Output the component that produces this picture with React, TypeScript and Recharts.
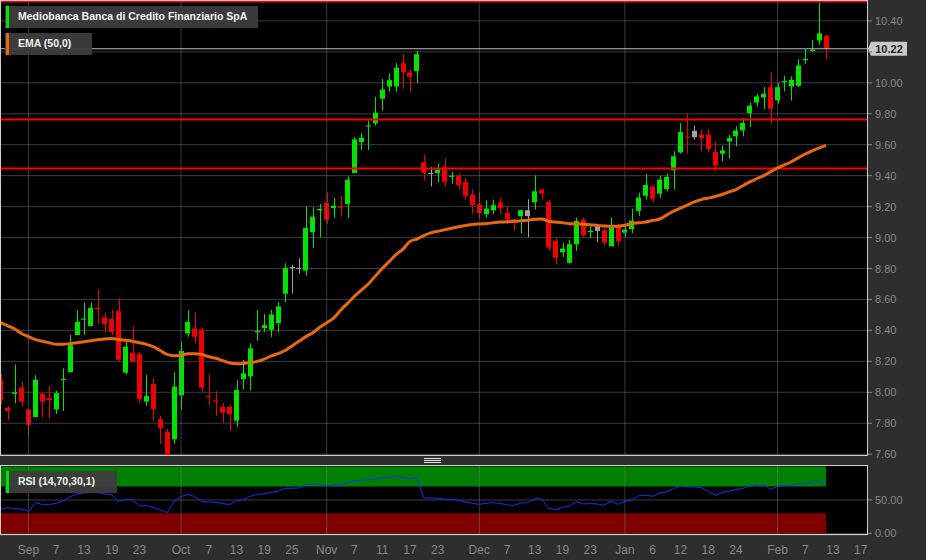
import {
  ComposedChart,
  Bar,
  Line,
  XAxis,
  YAxis,
  CartesianGrid,
  ReferenceLine,
  ReferenceArea,
} from "recharts";

// daily OHLC, Sep -> Feb
const opens = [
  8.08, 7.9, 7.99, 8.03, 7.89, 7.84, 7.99, 7.965, 7.89, 8.08,
  8.13, 8.37, 8.47, 8.428, 8.546, 8.484, 8.475, 8.525, 8.127, 8.256,
  8.247, 7.94, 8.054, 7.826, 7.746, 7.697, 7.98, 8.38, 8.413, 8.406,
  7.977, 7.948, 7.907, 7.907, 7.817, 8.086, 8.103, 8.393, 8.415, 8.404,
  8.447, 8.637, 8.81, 8.8, 8.787, 9.034, 9.176, 9.224, 9.19, 9.2,
  9.217, 9.417, 9.617, 9.718, 9.738, 9.897, 9.976, 9.976, 10.127, 10.067,
  10.077, 9.486, 9.413, 9.417, 9.456, 9.396, 9.398, 9.359, 9.277, 9.215,
  9.151, 9.176, 9.228, 9.159, 9.116, 9.138, 9.138, 9.228, 9.31, 9.23,
  8.978, 8.905, 8.837, 8.957, 9.116, 9.037, 9.075, 9.047, 8.944, 9.073,
  9.032, 9.054, 9.172, 9.27, 9.329, 9.284, 9.314, 9.434, 9.55, 9.652,
  9.69, 9.665, 9.665, 9.553, 9.542, 9.621, 9.654, 9.692, 9.804, 9.873,
  9.905, 9.972, 9.886, 10.004, 9.976, 9.981, 10.146, 10.206, 10.273, 10.303,
];
const highs = [
  8.12, 7.91, 8.18, 8.07, 7.89, 8.11, 8.0, 8.04, 8.01, 8.155,
  8.37, 8.53, 8.58, 8.58, 8.66, 8.516, 8.535, 8.606, 8.327, 8.428,
  8.26, 8.112, 8.09, 7.847, 7.763, 8.129, 8.327, 8.53, 8.516, 8.42,
  8.116, 8.009, 7.93, 7.918, 8.08, 8.209, 8.316, 8.53, 8.507, 8.533,
  8.583, 8.834, 8.824, 8.867, 9.202, 9.196, 9.217, 9.292, 9.256, 9.267,
  9.396, 9.647, 9.675, 9.755, 9.91, 10.024, 10.06, 10.127, 10.185, 10.088,
  10.206, 9.535, 9.457, 9.477, 9.51, 9.424, 9.413, 9.387, 9.31, 9.295,
  9.241, 9.245, 9.258, 9.198, 9.12, 9.181, 9.247, 9.402, 9.316, 9.245,
  8.994, 8.968, 8.987, 9.129, 9.129, 9.073, 9.09, 9.065, 9.129, 9.09,
  9.09, 9.187, 9.29, 9.413, 9.34, 9.4, 9.413, 9.557, 9.74, 9.804,
  9.723, 9.697, 9.7, 9.622, 9.594, 9.664, 9.718, 9.772, 9.873, 9.929,
  9.972, 10.067, 9.998, 10.045, 10.041, 10.153, 10.219, 10.277, 10.518, 10.314,
];
const lows = [
  7.92, 7.82, 7.93, 7.91, 7.72, 7.84, 7.84, 7.83, 7.86, 7.88,
  8.13, 8.37, 8.37, 8.428, 8.44, 8.385, 8.37, 8.198, 8.116, 8.2,
  7.93, 7.912, 7.81, 7.667, 7.59, 7.667, 7.886, 8.359, 8.316, 8.004,
  7.918, 7.847, 7.8, 7.75, 7.778, 8.02, 8.015, 8.333, 8.39, 8.357,
  8.39, 8.583, 8.637, 8.766, 8.755, 8.933, 9.002, 9.088, 9.127, 9.135,
  9.127, 9.417, 9.566, 9.566, 9.723, 9.824, 9.942, 9.942, 9.961, 9.942,
  9.998, 9.37, 9.33, 9.359, 9.327, 9.348, 9.31, 9.245, 9.151, 9.123,
  9.129, 9.151, 9.151, 9.086, 9.043, 9.026, 9.002, 9.181, 9.245, 8.914,
  8.826, 8.875, 8.832, 8.914, 9.0, 8.994, 8.97, 8.944, 8.944, 8.944,
  9.004, 9.028, 9.14, 9.245, 9.227, 9.256, 9.299, 9.31, 9.542, 9.542,
  9.632, 9.557, 9.55, 9.428, 9.492, 9.514, 9.589, 9.654, 9.714, 9.847,
  9.83, 9.735, 9.865, 9.944, 9.884, 9.972, 10.123, 10.202, 10.245, 10.153,
];
const closes = [
  7.95, 7.88, 8.0, 7.94, 7.79, 8.08, 7.94, 7.95, 7.995, 8.087,
  8.305, 8.456, 8.477, 8.546, 8.54, 8.439, 8.39, 8.21, 8.295, 8.2,
  7.957, 7.976, 7.89, 7.768, 7.595, 8.037, 8.267, 8.456, 8.359, 8.03,
  7.972, 7.942, 7.869, 7.858, 8.015, 8.123, 8.284, 8.397, 8.434, 8.503,
  8.555, 8.804, 8.804, 8.804, 9.062, 9.135, 9.185, 9.116, 9.206, 9.196,
  9.374, 9.634, 9.645, 9.725, 9.806, 9.957, 10.017, 10.097, 10.067, 10.039,
  10.185, 9.418, 9.418, 9.439, 9.359, 9.4, 9.338, 9.269, 9.209, 9.159,
  9.187, 9.209, 9.189, 9.116, 9.11, 9.177, 9.177, 9.299, 9.284, 8.935,
  8.869, 8.929, 8.957, 9.108, 9.015, 9.043, 9.043, 8.968, 9.065, 8.976,
  9.052, 9.11, 9.259, 9.34, 9.251, 9.374, 9.391, 9.525, 9.682, 9.649,
  9.649, 9.643, 9.572, 9.465, 9.563, 9.643, 9.692, 9.74, 9.852, 9.912,
  9.929, 9.832, 9.972, 10.011, 10.019, 10.112, 10.153, 10.213, 10.32, 10.22,
];
const ema50 = [
  8.45, 8.43, 8.41, 8.38, 8.36, 8.34, 8.33, 8.32, 8.31, 8.31,
  8.315, 8.32, 8.327, 8.333, 8.34, 8.345, 8.347, 8.342, 8.336, 8.33,
  8.32, 8.31, 8.295, 8.27, 8.245, 8.236, 8.24, 8.25, 8.25, 8.245,
  8.23, 8.22, 8.205, 8.19, 8.185, 8.187, 8.192, 8.2, 8.215, 8.235,
  8.25, 8.27, 8.3, 8.33, 8.36, 8.385, 8.42, 8.45, 8.48, 8.53,
  8.575, 8.62, 8.66, 8.7, 8.75, 8.8, 8.845, 8.89, 8.925, 8.975,
  8.99, 9.013, 9.03, 9.04, 9.05, 9.06, 9.07, 9.078, 9.085, 9.088,
  9.09, 9.095, 9.1, 9.102, 9.105, 9.108, 9.112, 9.118, 9.12, 9.105,
  9.1, 9.095, 9.09, 9.088, 9.086, 9.083, 9.078, 9.075, 9.073, 9.073,
  9.08, 9.09, 9.095, 9.1, 9.11, 9.12, 9.145, 9.17, 9.19, 9.21,
  9.23, 9.245, 9.255, 9.265, 9.278, 9.295, 9.31, 9.335, 9.36, 9.38,
  9.4, 9.425, 9.45, 9.47, 9.49, 9.515, 9.54, 9.56, 9.58, 9.596,
];
const rsi14 = [
  36, 38.5, 37, 36.5, 33, 46, 43, 43, 45, 48.5,
  55, 59, 60.5, 61.5, 61, 59, 58, 48, 51, 50,
  41, 41.5, 39, 35, 31, 48, 55, 58.5, 55, 47.5,
  47, 46.5, 44.5, 43, 48.5, 50.5, 55.5, 58.5, 59, 61.5,
  63, 67.5, 67.5, 68, 73, 73.5, 74.5, 71, 73.5, 72,
  75.5, 79, 79.5, 80.5, 81.5, 83, 84, 85.5, 84, 82,
  84, 53, 53, 52.5, 51, 51, 49.5, 47, 45, 43.5,
  45, 46, 45, 42.5, 42, 45.5, 46, 52, 52, 37,
  35.5, 39, 41, 47.5, 44, 44.5, 44, 42, 48, 43.5,
  48, 50, 56.5, 57, 55.5, 60.5, 62, 67, 71, 69.5,
  69.5, 68.5, 63, 57, 61, 63.5, 65.5, 67.5, 70.5, 72,
  73, 66, 70.5, 71.5, 72, 74, 75, 77, 79.5, 72,
];

const priceTicks = [7.6, 7.8, 8.0, 8.2, 8.4, 8.6, 8.8, 9.0, 9.2, 9.4, 9.6, 9.8, 10.0, 10.2, 10.4];
const levelLines = [10.525, 9.763, 9.447];
const dateTicks = [4, 8, 12, 16, 20, 26, 30, 34, 38, 42, 47, 51, 55, 59, 63, 69, 73, 77, 81, 85, 90, 94, 98, 102, 106, 112, 116, 120, 124];
const dateLabels = ["Sep", "7", "13", "19", "23", "Oct", "7", "13", "19", "25", "Nov", "7", "11", "17", "23", "Dec", "7", "13", "19", "23", "Jan", "6", "12", "18", "24", "Feb", "7", "13", "17"];
const monthTicks = [4, 26, 47, 69, 90, 112];
const rsiTicks = [0, 50];
const rsiBands = { over: [70, 100], under: [0, 30] };

const rows = closes.map((c, i) => ({
  i,
  o: opens[i],
  h: highs[i],
  l: lows[i],
  c,
  prev: i > 0 ? closes[i - 1] : opens[i],
  ema: ema50[i],
  rsi: rsi14[i],
}));
const lastClose = closes[closes.length - 1];
const lastIdx = rows.length - 1;

const GREEN = "#00e400";
const RED = "#f00000";
const GRAY = "#a0a0a0";
const GRID = "rgba(120,120,120,0.5)";
const AXIS_TEXT = "#868686";
const FONT = "'Liberation Sans', Arial, sans-serif";
const X_DOMAIN = [-0.1, 124.9];

const candleColor = (d: any) =>
  d.c === d.prev ? GRAY : d.c > d.o ? GREEN : d.c < d.o ? RED : d.c > d.prev ? GREEN : RED;

const Candle = (props: any) => {
  const { x, y, width, height, payload } = props;
  if (!payload) return null;
  const top = Math.min(y, y + height);
  const span = Math.abs(height);
  const ppu = span / (payload.h - payload.l);
  const yo = top + (payload.h - payload.o) * ppu;
  const yc = top + (payload.h - payload.c) * ppu;
  const cx = Math.round(x + width / 2) + 0.5;
  const col = candleColor(payload);
  return (
    <g>
      <line x1={cx} x2={cx} y1={top} y2={top + span} stroke={col} strokeWidth={1} />
      <rect
        x={Math.round(x)}
        y={Math.min(yo, yc)}
        width={width}
        height={Math.max(1.2, Math.abs(yo - yc))}
        fill={col}
      />
    </g>
  );
};

const PriceTick = (props: any) => {
  const { x, y, payload } = props;
  if (Math.abs(payload.value - lastClose) < 0.06) return <g />;
  return (
    <text x={x} y={y} dy={4} fill={AXIS_TEXT} fontSize={11} fontFamily={FONT} textAnchor="start">
      {payload.value.toFixed(2)}
    </text>
  );
};

const RsiTick = (props: any) => {
  const { x, y, payload } = props;
  return (
    <text x={x} y={y} dy={4} fill={AXIS_TEXT} fontSize={11} fontFamily={FONT} textAnchor="start">
      {payload.value.toFixed(2)}
    </text>
  );
};

const LastPriceLabel = (props: any) => {
  const vb = props.viewBox || {};
  const x = vb.x + vb.width;
  const y = vb.y;
  return (
    <g>
      <path
        d={`M${x + 1},${y} L${x + 4},${y - 7} L${x + 40},${y - 7} L${x + 40},${y + 7} L${x + 4},${y + 7} Z`}
        fill="#c9c9c9"
      />
      <text
        x={x + 22}
        y={y + 4}
        textAnchor="middle"
        fill="#1e1e1e"
        fontSize={11}
        fontWeight="bold"
        fontFamily={FONT}
      >
        {lastClose.toFixed(2)}
      </text>
    </g>
  );
};

const Tag = ({ left, top, width, bar, text }: any) => (
  <div
    style={{
      position: "absolute",
      left,
      top,
      width,
      height: 22,
      background: "rgba(60,60,60,0.96)",
      boxSizing: "border-box",
    }}
  >
    <div style={{ position: "absolute", left: 1, top: 0, width: 3, height: 22, background: bar }} />
    <div
      style={{
        position: "absolute",
        left: 13,
        top: 4,
        color: "#f2f2f2",
        fontSize: 10.5,
        fontWeight: "bold",
        fontFamily: FONT,
        whiteSpace: "nowrap",
      }}
    >
      {text}
    </div>
  </div>
);

const App = () => {
  return (
    <div
      style={{
        position: "absolute",
        left: 0,
        top: 0,
        width: 926,
        height: 560,
        background: "#2e2e2e",
        overflow: "hidden",
        fontFamily: FONT,
      }}
    >
      {/* price pane */}
      <div style={{ position: "absolute", left: 0, top: 0, width: 868, height: 456, background: "#000" }} />
      <div style={{ position: "absolute", left: 0, top: 0 }}>
        <ComposedChart width={926} height={463} data={rows} margin={{ top: 0, right: 0, bottom: 8, left: 0 }}>
          <CartesianGrid vertical={false} stroke={GRID} />
          <XAxis dataKey="i" type="number" domain={X_DOMAIN} hide allowDataOverflow />
          <YAxis
            orientation="right"
            domain={[7.595, 10.535]}
            ticks={priceTicks}
            interval={0}
            width={59}
            allowDataOverflow
            axisLine={false}
            tickSize={5}
            tickMargin={3}
            tickLine={{ stroke: "#888" }}
            tick={<PriceTick />}
          />
          {monthTicks.map((m) => (
            <ReferenceLine key={"m" + m} x={m} stroke={GRID} />
          ))}
          {levelLines.map((v) => (
            <ReferenceLine key={"lv" + v} y={v} stroke="#ff0000" strokeWidth={2} />
          ))}
          <ReferenceLine y={lastClose} stroke="#bdbdbd" label={<LastPriceLabel />} />
          <Bar
            dataKey={(d: any) => [d.l, d.h]}
            barSize={5}
            shape={<Candle />}
            isAnimationActive={false}
          />
          <Line
            type="monotone"
            dataKey="ema"
            stroke="#e8680f"
            strokeWidth={3}
            dot={false}
            activeDot={false}
            isAnimationActive={false}
          />
        </ComposedChart>
      </div>
      <div
        style={{
          position: "absolute",
          left: 0,
          top: 0,
          width: 868,
          height: 456,
          border: "1px solid #cfcfcf",
          boxSizing: "border-box",
          pointerEvents: "none",
        }}
      />

      {/* pane splitter */}
      {[458, 460, 462].map((t) => (
        <div key={t} style={{ position: "absolute", left: 424, top: t, width: 17, height: 1, background: "#e6e6e6" }} />
      ))}

      {/* RSI pane */}
      <div style={{ position: "absolute", left: 0, top: 465, width: 868, height: 70, background: "#000" }} />
      <div style={{ position: "absolute", left: 0, top: 465 }}>
        <ComposedChart width={926} height={95} data={rows} margin={{ top: 0, right: 0, bottom: 0, left: 0 }}>
          <XAxis
            dataKey="i"
            type="number"
            domain={X_DOMAIN}
            ticks={dateTicks}
            interval={0}
            allowDataOverflow
            height={25}
            axisLine={false}
            tickLine={false}
            tickMargin={4}
            tick={{ fill: AXIS_TEXT, fontSize: 12, fontFamily: FONT }}
            tickFormatter={(v: number) => dateLabels[dateTicks.indexOf(v)] ?? ""}
          />
          <YAxis
            orientation="right"
            domain={[-2.5, 102.4]}
            ticks={rsiTicks}
            interval={0}
            width={59}
            allowDataOverflow
            axisLine={false}
            tickSize={5}
            tickMargin={3}
            tickLine={{ stroke: "#888" }}
            tick={<RsiTick />}
          />
          <ReferenceArea
            x1={0}
            x2={lastIdx}
            y1={rsiBands.over[0]}
            y2={rsiBands.over[1]}
            fill="#008000"
            fillOpacity={1}
            stroke="none"
          />
          <ReferenceArea
            x1={0}
            x2={lastIdx}
            y1={rsiBands.under[0]}
            y2={rsiBands.under[1]}
            fill="#800000"
            fillOpacity={1}
            stroke="none"
          />
          <CartesianGrid vertical={false} stroke={GRID} />
          {monthTicks.map((m) => (
            <ReferenceLine key={"r" + m} x={m} stroke={GRID} />
          ))}
          <Line
            type="linear"
            dataKey="rsi"
            stroke="#1a2eff"
            strokeWidth={1}
            dot={false}
            activeDot={false}
            isAnimationActive={false}
          />
        </ComposedChart>
      </div>
      <div
        style={{
          position: "absolute",
          left: 0,
          top: 465,
          width: 868,
          height: 70,
          border: "1px solid #cfcfcf",
          boxSizing: "border-box",
          pointerEvents: "none",
        }}
      />

      {/* legends */}
      <Tag left={5} top={6} width={253} bar="#00e400" text="Mediobanca Banca di Credito Finanziario SpA" />
      <Tag left={5} top={33} width={87} bar="#e8680f" text="EMA (50,0)" />
      <Tag left={5} top={471} width={112} bar="#00e400" text="RSI (14,70,30,1)" />
    </div>
  );
};

export default App;
